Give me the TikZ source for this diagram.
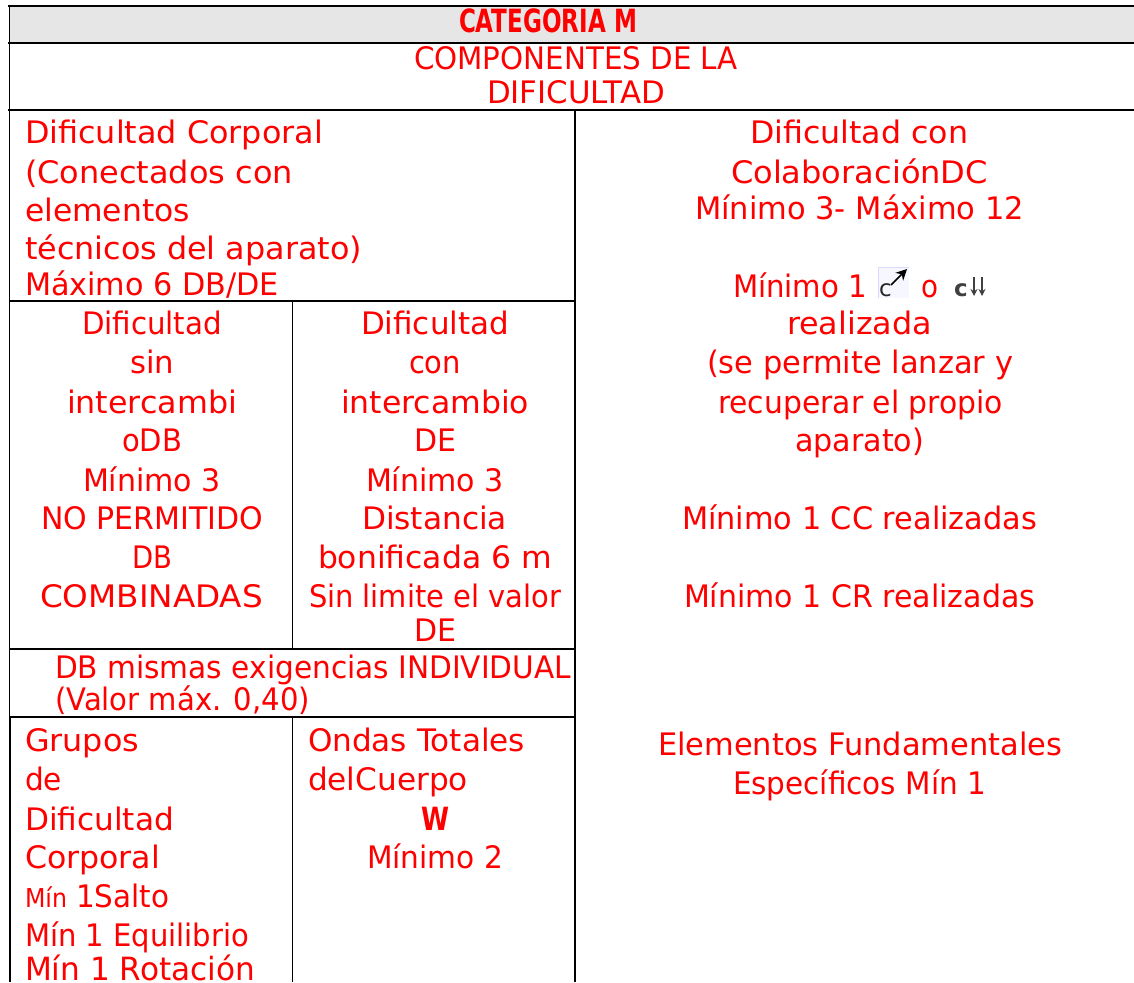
\documentclass[tikz,border=0pt]{standalone}
\usepackage{fontspec}
\usepackage{graphicx}
\usetikzlibrary{arrows.meta}
\setmainfont{DejaVu Sans}
\definecolor{headgray}{HTML}{E6E6E6}
\definecolor{txtred}{HTML}{FF0000}
\tikzset{
  rule/.style={black,line width=1.8pt},
  thickrule/.style={black,line width=2pt},
  thinrule/.style={black,line width=1.2pt},
  lbl/.style={anchor=base west,inner sep=0pt,outer sep=0pt,text=txtred,font=\fontsize{31}{31}\selectfont},
}
% name, x-left, x-right, baseline, text: the line is fitted to the span it has in the reference
\newcommand{\tx}[5]{\pgfmathsetmacro{\spanw}{#3-#2}\node[lbl] (#1) at (#2,#4) {\resizebox{\spanw pt}{\height}{#5}};}
\begin{document}
\begin{tikzpicture}[x=1pt,y=-1pt]
\useasboundingbox (0,0) rectangle (1134,982);
\fill[white] (0,0) rectangle (1134,982);
\fill[headgray] (9,7) rectangle (1134,43);
% table rules
\draw[thickrule] (8,6) -- (1134,6);
\draw[thickrule] (8,43) -- (1134,43);
\draw[thickrule] (8,110) -- (1134,110);
\draw[thinrule] (9.5,6) -- (9.5,717);
\draw[rule] (10,717) -- (10,982);
\draw[thinrule] (575,110) -- (575,717);
\draw[rule] (575,717) -- (575,982);
\draw[thinrule] (292.5,301) -- (292.5,649);
\draw[rule] (292.5,717) -- (292.5,982);
\draw[rule] (9,301) -- (575,301);
\draw[rule] (9,649) -- (575,649);
\draw[rule] (9,717) -- (575,717);
% header
\tx{a1}{459}{637}{33}{\fontsize{32}{32}\selectfont\bfseries CATEGORIA M}
\tx{a2}{414}{738}{70}{COMPONENTES DE LA}
\tx{a3}{487}{665}{103}{DIFICULTAD}
% left block
\tx{b1}{25}{323}{143}{Dificultad Corporal}
\tx{b2}{25}{293}{183}{(Conectados con}
\tx{b3}{25}{190}{221}{elementos}
\tx{b4}{25}{362}{259}{técnicos del aparato)}
\tx{b5}{25}{279}{295}{Máximo 6 DB/DE}
% col 1
\tx{c1}{82}{222}{334}{Dificultad}
\tx{c2}{130}{174}{373}{sin}
\tx{c3}{67}{237}{413}{intercambi}
\tx{c4}{122}{182}{451}{oDB}
\tx{c5}{83}{221}{491}{Mínimo 3}
\tx{c6}{41}{263}{529}{NO PERMITIDO}
\tx{c7}{132}{172}{568}{DB}
\tx{c8}{40}{263}{607}{COMBINADAS}
% col 2
\tx{d1}{361}{509}{334}{Dificultad}
\tx{d2}{409}{461}{373}{con}
\tx{d3}{341}{529}{413}{intercambio}
\tx{d4}{414}{456}{451}{DE}
\tx{d5}{366}{504}{491}{Mínimo 3}
\tx{d6}{362}{507}{529}{Distancia}
\tx{d7}{318}{552}{568}{bonificada 6 m}
\tx{d8}{309}{561}{607}{Sin limite el valor}
\tx{d9}{414}{456}{641}{DE}
% individual
\tx{e1}{55}{571}{678}{DB mismas exigencias INDIVIDUAL}
\tx{e2}{55}{310}{710}{(Valor máx. 0,40)}
% groups
\tx{f1}{25}{139}{751}{Grupos}
\tx{f2}{25}{62}{790}{de}
\tx{f3}{25}{174}{830}{Dificultad}
\tx{f4}{25}{160}{868}{Corporal}
\tx{f5}{25}{67}{907}{\fontsize{26}{26}\selectfont Mín}
\tx{f6}{76}{169}{907}{1Salto}
\tx{f7}{25}{249}{946}{Mín 1 Equilibrio}
\tx{f8}{25}{255}{980}{\fontsize{32}{32}\selectfont Mín 1 Rotación}
\tx{g1}{308}{525}{751}{Ondas Totales}
\tx{g2}{308}{468}{790}{delCuerpo}
\tx{g3}{421}{449}{830}{\fontsize{32}{32}\selectfont\bfseries W}
\tx{g4}{367}{503}{868}{Mínimo 2}
% right column
\tx{h1}{750}{968}{143}{Dificultad con}
\tx{h2}{731}{988}{183}{ColaboraciónDC}
\tx{h3}{695}{1024}{219}{Mínimo 3- Máximo 12}
\tx{h4}{733}{867}{297}{Mínimo 1}
\tx{h5}{921}{938}{297}{o}
\tx{h6}{787}{932}{334}{realizada}
\tx{h7}{707}{1013}{373}{(se permite lanzar y}
\tx{h8}{718}{1003}{413}{recuperar el propio}
\tx{h9}{795}{924}{451}{aparato)}
\tx{h10}{682}{1037}{529}{Mínimo 1 CC realizadas}
\tx{h11}{684}{1035}{607}{Mínimo 1 CR realizadas}
\tx{h12}{658}{1062}{755}{Elementos Fundamentales}
\tx{h13}{733}{986}{794}{Específicos Mín 1}
% catch symbols
\fill[blue!3] (878,267) rectangle (909,298);
\draw[blue!15,line width=0.6pt] (878,298) -- (878,267) -- (909,267);
\node[anchor=base west,inner sep=0pt,text=black!85,font=\fontsize{23}{23}\selectfont] (i1) at (879,296) {c};
\draw[black,line width=1.6pt,-{Stealth[length=11pt,width=11pt]}] (891,285) -- (907,269);
\node[anchor=base west,inner sep=0pt,text=black!75,font=\fontsize{23}{23}\selectfont\bfseries] (i2) at (954,296) {c};
\draw[black!75,line width=1.8pt,-{Stealth[length=7pt,width=7pt]}] (974,277) -- (974,296);
\draw[black!75,line width=1.8pt,-{Stealth[length=7pt,width=7pt]}] (982,277) -- (982,296);
\end{tikzpicture}
\end{document}
